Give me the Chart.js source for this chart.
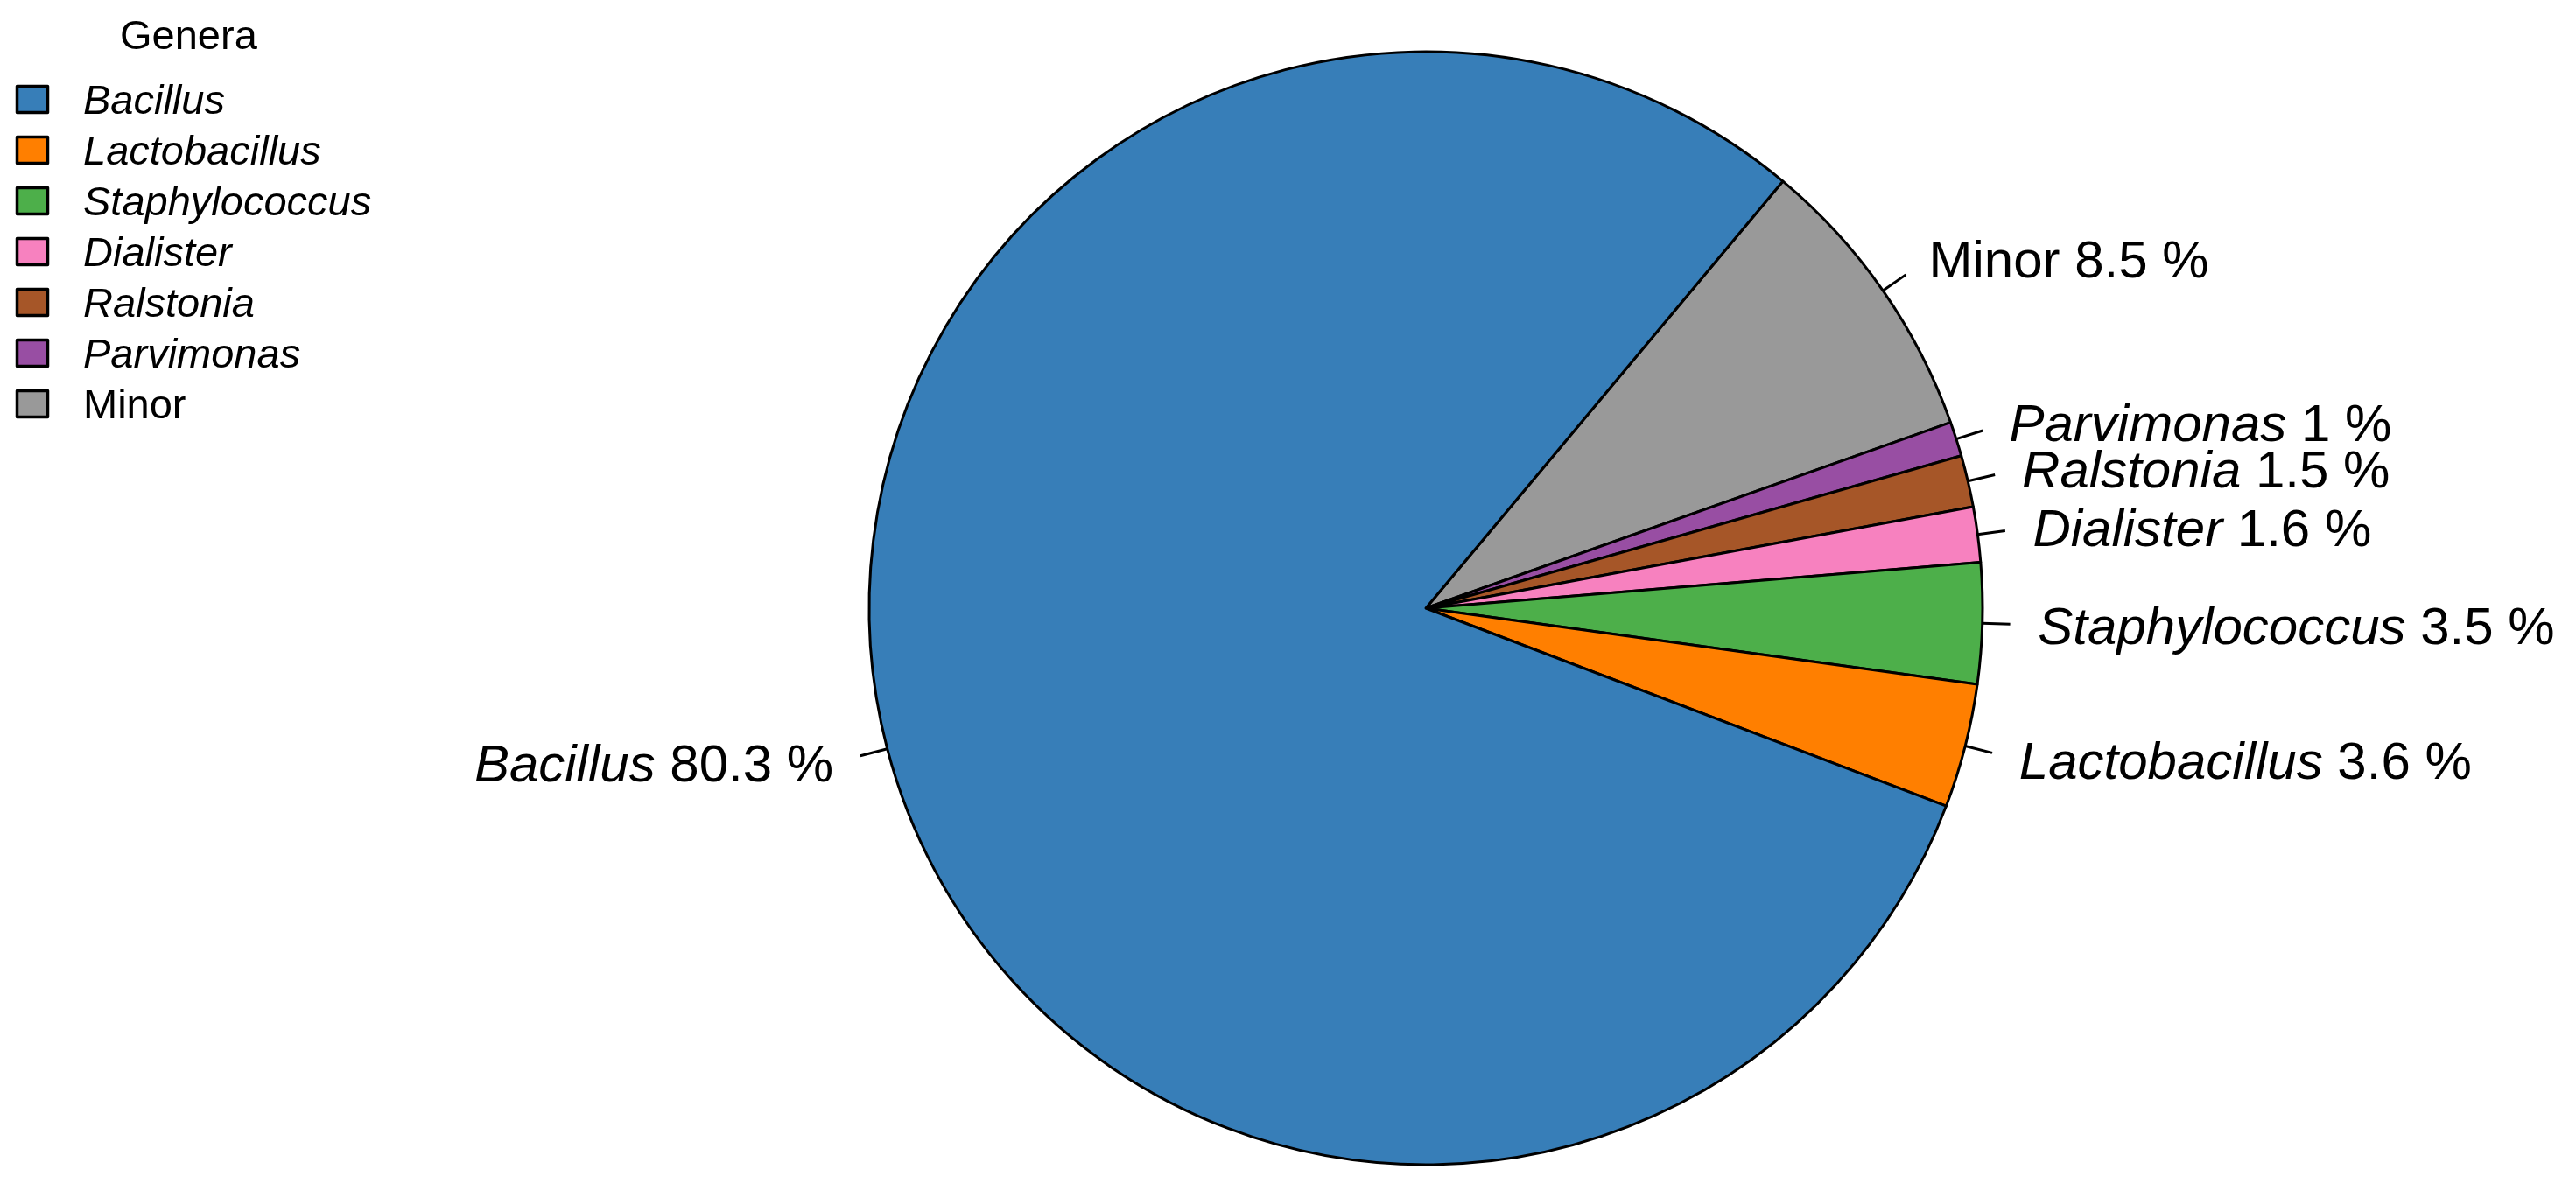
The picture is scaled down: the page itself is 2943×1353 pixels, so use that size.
<!DOCTYPE html>
<html><head><meta charset="utf-8">
<script src="https://cdn.jsdelivr.net/npm/chart.js@4.4.1/dist/chart.umd.min.js"></script>
<style>html,body{margin:0;padding:0;background:#fff;overflow:hidden;}</style>
</head><body>
<canvas id="c" width="2943" height="1353"></canvas>
<script>
// ---- data (legend order) ----
const genera = ['Bacillus','Lactobacillus','Staphylococcus','Dialister','Ralstonia','Parvimonas','Minor'];
const percents = [80.3, 3.6, 3.5, 1.6, 1.5, 1, 8.5];
const italicNames = [true, true, true, true, true, true, false];
const colors = ['#377EB8','#FF7F00','#4DAF4A','#F781BF','#A65628','#984EA3','#999999'];
const legendTitle = 'Genera';

// Reference pie runs counter-clockwise; Chart.js draws clockwise -> reverse order
const order = genera.map((_, i) => i).reverse();

const FONT = '"Liberation Sans", Arial, Helvetica, sans-serif';

const labelPlugin = {
  id: 'pieLabels',
  afterDatasetsDraw(chart) {
    const ctx = chart.ctx;
    const meta = chart.getDatasetMeta(0);
    ctx.save();
    meta.data.forEach((arc, j) => {
      const p = arc.getProps(['x','y','startAngle','endAngle','outerRadius'], true);
      const mid = (p.startAngle + p.endAngle) / 2;
      const c = Math.cos(mid), s = Math.sin(mid), r = p.outerRadius;
      ctx.strokeStyle = '#000'; ctx.lineWidth = 3; ctx.lineCap = 'butt';
      ctx.beginPath();
      ctx.moveTo(p.x + c * r, p.y + s * r);
      ctx.lineTo(p.x + c * r * 1.05, p.y + s * r * 1.05);
      ctx.stroke();
      const lx = p.x + c * r * 1.1, ly = p.y + s * r * 1.1;
      const idx = order[j];
      const name = genera[idx], val = ' ' + percents[idx] + ' %';
      const size = 60;
      const fI = (italicNames[idx] ? 'italic ' : '') + size + 'px ' + FONT;
      const fR = size + 'px ' + FONT;
      ctx.font = fI; const w1 = ctx.measureText(name).width;
      ctx.font = fR; const w2 = ctx.measureText(val).width;
      const x0 = c >= 0 ? lx : lx - w1 - w2;
      const base = ly + 0.358 * size;
      ctx.textAlign = 'left'; ctx.textBaseline = 'alphabetic'; ctx.fillStyle = '#000';
      ctx.font = fI; ctx.fillText(name, x0, base);
      ctx.font = fR; ctx.fillText(val, x0 + w1, base);
    });
    ctx.restore();
  }
};

const legendPlugin = {
  id: 'rLegend',
  afterDraw(chart) {
    const ctx = chart.ctx;
    ctx.save();
    ctx.fillStyle = '#000';
    ctx.textAlign = 'left'; ctx.textBaseline = 'alphabetic';
    ctx.font = '47px ' + FONT;
    ctx.fillText(legendTitle, 137, 56);
    genera.forEach((g, i) => {
      const cy = 113 + i * 58;
      ctx.fillStyle = colors[i];
      ctx.fillRect(19.5, cy - 14.5, 35, 30);
      ctx.strokeStyle = '#000'; ctx.lineWidth = 3.5; ctx.lineJoin = 'round';
      ctx.strokeRect(19.5, cy - 14.5, 35, 30);
      ctx.fillStyle = '#000';
      ctx.font = (italicNames[i] ? 'italic ' : '') + '47px ' + FONT;
      ctx.fillText(g, 95, cy + 17);
    });
    ctx.restore();
  }
};

new Chart(document.getElementById('c'), {
  type: 'pie',
  data: {
    labels: order.map(i => genera[i]),
    datasets: [{
      data: order.map(i => percents[i]),
      backgroundColor: order.map(i => colors[i]),
      borderColor: '#000',
      borderWidth: 3,
      borderJoinStyle: 'round',
      radius: 636
    }]
  },
  options: {
    responsive: false,
    animation: false,
    events: [],
    rotation: 39.9,
    layout: { padding: { left: 315, right: 0, top: 37, bottom: 0 } },
    plugins: { legend: { display: false }, tooltip: { enabled: false }, title: { display: false } }
  },
  plugins: [labelPlugin, legendPlugin]
});
</script>
</body></html>
